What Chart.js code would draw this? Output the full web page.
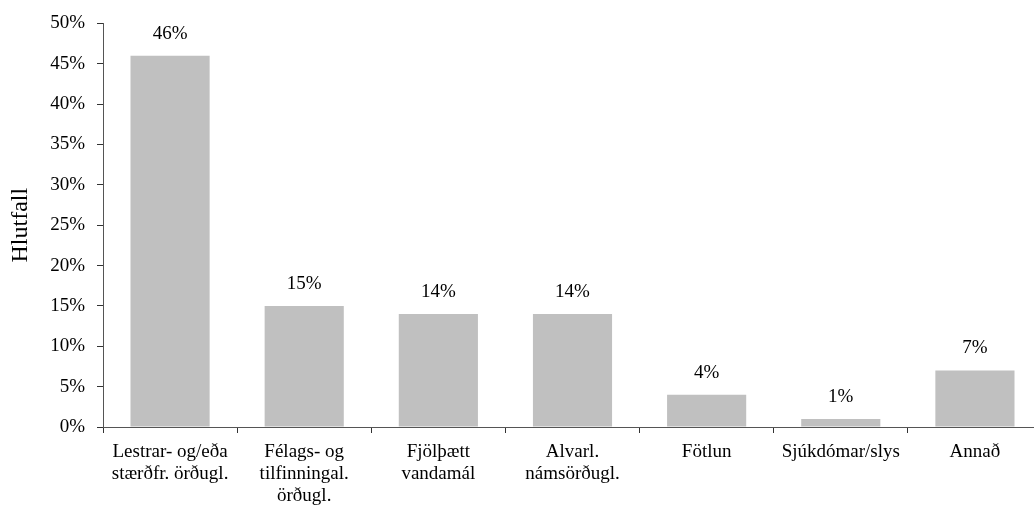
<!DOCTYPE html>
<html>
<head>
<meta charset="utf-8">
<script src="https://cdn.jsdelivr.net/npm/chart.js@4"></script>
<style>
  html, body { margin: 0; padding: 0; background: #fff; overflow: hidden; }
  #wrap { width: 1034px; height: 513px; overflow: hidden; }
</style>
</head>
<body>
<div id="wrap"><canvas id="chart" width="1042" height="513"></canvas></div>
<script>
// Chart data
const categories = [
  ["Lestrar- og/eða", "stærðfr. örðugl."],
  ["Félags- og", "tilfinningal.", "örðugl."],
  ["Fjölþætt", "vandamál"],
  ["Alvarl.", "námsörðugl."],
  "Fötlun",
  "Sjúkdómar/slys",
  "Annað"
];
const shares = [46, 15, 14, 14, 4, 1, 7];
const yTicks = [0, 5, 10, 15, 20, 25, 30, 35, 40, 45, 50];

const FONT = "'Liberation Serif', 'Times New Roman', serif";

// Draw value labels above bars
const valueLabels = {
  id: "valueLabels",
  afterDatasetsDraw(chart) {
    const ctx = chart.ctx;
    const meta = chart.getDatasetMeta(0);
    ctx.save();
    ctx.font = "19px " + FONT;
    ctx.fillStyle = "#000";
    ctx.textAlign = "center";
    ctx.textBaseline = "middle";
    meta.data.forEach((bar, i) => {
      ctx.fillText(shares[i] + "%", bar.x, bar.y - 22);
    });
    ctx.restore();
  }
};

new Chart(document.getElementById("chart"), {
  type: "bar",
  data: {
    labels: categories,
    datasets: [{
      data: shares,
      backgroundColor: "#c0c0c0",
      barPercentage: 0.59,
      categoryPercentage: 1.0
    }]
  },
  options: {
    responsive: false,
    animation: false,
    layout: { padding: { top: 19, right: 0, bottom: 0, left: 0 } },
    plugins: {
      legend: { display: false },
      tooltip: { enabled: false }
    },
    scales: {
      x: {
        offset: true,
        grid: {
          offset: true,
          drawOnChartArea: false,
          drawTicks: true,
          tickLength: 6,
          color: "#333"
        },
        border: { color: "#555", width: 1 },
        ticks: {
          color: "#000",
          font: { family: FONT, size: 19, lineHeight: 1.16 },
          maxRotation: 0,
          autoSkip: false,
          padding: 8
        },
        afterFit(scale) { scale.height = 86; }
      },
      y: {
        min: 0,
        max: 50,
        afterBuildTicks(scale) {
          scale.ticks = yTicks.map(v => ({ value: v }));
        },
        grid: {
          drawOnChartArea: false,
          drawTicks: true,
          tickLength: 6,
          color: "#333"
        },
        border: { color: "#555", width: 1 },
        ticks: {
          color: "#000",
          font: { family: FONT, size: 19 },
          padding: 12,
          callback: v => v + "%"
        },
        title: {
          display: true,
          text: "Hlutfall",
          color: "#000",
          font: { family: FONT, size: 24 },
          padding: { top: 6, bottom: 0 }
        },
        afterFit(scale) { scale.width = 103; }
      }
    }
  },
  plugins: [valueLabels]
});
</script>
</body>
</html>
